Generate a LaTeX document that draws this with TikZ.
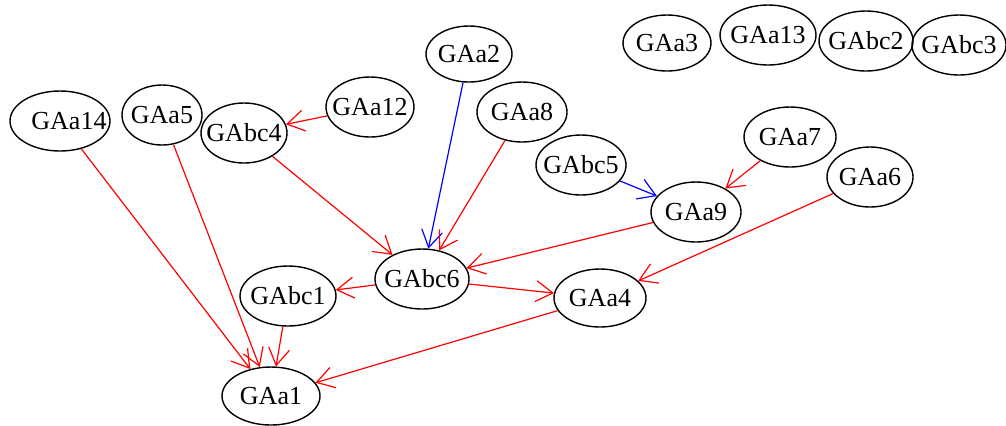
\documentclass[tikz,border=0pt]{standalone}
\usepackage{fontspec}
\setmainfont{Liberation Serif}
\usetikzlibrary{shapes.geometric,arrows.meta}
\tikzset{
  vtx/.style={draw,ellipse,line width=0.7pt,inner sep=0pt,minimum height=30pt,minimum width=#1,
    font=\fontsize{13}{15}\selectfont},
  vtx/.default=45pt,
  redge/.style={draw=red,line width=0.6pt,-{Straight Barb[length=8.5pt,width=10.5pt]}},
  bedge/.style={redge,draw=blue}
}
\newcommand{\lbl}[1]{\makebox[0pt]{#1}}
\begin{document}
\begin{tikzpicture}[x=0.5pt,y=-0.5pt]
        \useasboundingbox (0,0) rectangle (1006,425);
        %% vertices
        \node[vtx=50pt] (a14) at (60,121) {\lbl{\hspace*{9pt}GAa14}};
        \node[vtx=40pt] (a5) at (162,115) {\lbl{GAa5}};
        \node[vtx=43pt] (bc4) at (244,133) {\lbl{GAbc4}};
        \node[vtx=44pt] (a12) at (370,107) {\lbl{GAa12}};
        \node[vtx=43pt,minimum height=28pt] (a2) at (469,54) {\lbl{GAa2}};
        \node[vtx=45pt] (a8) at (522,112) {\lbl{GAa8}};
        \node[vtx=45pt] (bc5) at (581,165) {\lbl{GAbc5}};
        \node[vtx=46pt] (a7) at (790,137) {\lbl{GAa7}};
        \node[vtx=43pt] (a6) at (870,177) {\lbl{GAa6}};
        \node[vtx=45pt] (a9) at (696,212) {\lbl{GAa9}};
        \node[vtx=47pt] (bc6) at (422,279) {\lbl{GAbc6}};
        \node[vtx=48pt] (bc1) at (288,296) {\lbl{GAbc1}};
        \node[vtx=46pt,minimum height=29pt] (a4) at (600,298) {\lbl{GAa4}};
        \node[vtx=49pt,minimum height=29pt] (a1) at (271,396) {\lbl{GAa1}};
        %% isolated ones
        \node[vtx=44pt,minimum height=28pt] (a3) at (667,43) {\lbl{GAa3}};
        \node[vtx=48pt] (a13) at (768,35) {\lbl{GAa13}};
        \node[vtx=47pt] (bc2) at (866,41) {\lbl{GAbc2}};
        \node[vtx=47pt] (bc3) at (959,45) {\lbl{GAbc3}};
        %% edges
        \draw[redge] (a14) -- (a1);
        \draw[redge] (a5) -- (a1);
        \draw[redge] (bc1) -- (a1);
        \draw[redge] (a4) -- (a1);
        \draw[redge] (a12) -- (bc4);
        \draw[redge] (bc4) -- (bc6);
        \draw[bedge] (a2) -- (bc6);
        \draw[redge] (a8) -- (bc6);
        \draw[redge] (a9) -- (bc6);
        \draw[redge] (bc6) -- (bc1);
        \draw[redge] (bc6) -- (a4);
        \draw[redge] (a6) -- (a4);
        \draw[bedge] (bc5) -- (a9);
        \draw[redge] (a7) -- (a9);
    \end{tikzpicture}
\end{document}
